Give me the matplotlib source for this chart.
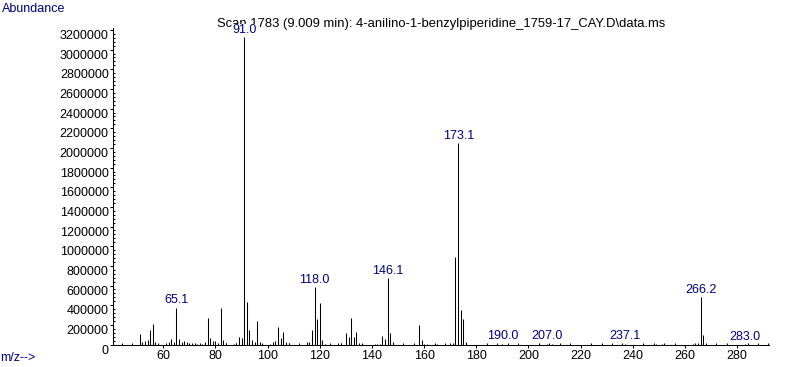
import matplotlib
matplotlib.use("Agg")
import matplotlib.pyplot as plt
from matplotlib.ticker import MultipleLocator, FixedLocator

plt.rcParams['font.family'] = ['Liberation Sans', 'DejaVu Sans']

# ---- data ----
mz = [51, 52, 53, 54, 55, 56, 57, 58, 61, 62, 63, 64, 65, 66, 67, 68, 69, 70,
      71, 72, 73, 74, 75, 76, 77, 78, 79, 80, 81, 82, 83, 84, 87, 88, 89, 90,
      91, 92, 93, 94, 95, 96, 97, 98, 101, 102, 103, 104, 105, 106, 107, 108,
      112, 115, 116, 117, 118, 119, 120, 121, 122, 127, 128, 130, 131, 132,
      133, 134, 135, 136, 141, 142, 143, 144, 145, 146, 147, 148, 152, 158,
      159, 160, 161, 165, 168, 170, 171, 172, 173, 174, 175, 176, 190, 207,
      209, 236, 237, 249, 251, 263, 265, 266, 267, 283]
abundance = [105000, 30000, 32000, 50000, 145000, 206000, 25000, 12000,
             12000, 25000, 52000, 30000, 376000, 60000, 25000, 35000, 28000,
             15000, 12000, 10000, 10000, 12000, 10000, 30000, 268000, 62000,
             35000, 35000, 18000, 370000, 42000, 12000, 10000, 14000, 78000,
             66000, 3125000, 435000, 148000, 46000, 28000, 240000, 22000,
             12000, 8000, 25000, 38000, 180000, 65000, 128000, 28000, 12000,
             6000, 30000, 22000, 148000, 580000, 262000, 424000, 41000, 10000,
             12000, 18000, 112000, 78000, 268000, 72000, 125000, 18000, 8000,
             8000, 8000, 10000, 85000, 52000, 673000, 112000, 30000, 6000,
             196000, 41000, 10000, 8000, 6000, 6000, 12000, 20000, 895000,
             2047000, 352000, 262000, 30000, 8000, 10000, 6000, 6000, 8000,
             8000, 8000, 10000, 15000, 480000, 95000, 6000]
label_mz = [65.1, 91.0, 118.0, 146.1, 173.1, 190.0, 207.0, 237.1, 266.2, 283.0]
x_ticks = list(range(60, 281, 20))
y_ticks = list(range(0, 3200001, 200000))
title = r"Scan 1783 (9.009 min): 4-anilino-1-benzylpiperidine_1759-17_CAY.D\data.ms"

W, H, DPI = 787, 367, 100
fig = plt.figure(figsize=(W / DPI, H / DPI), dpi=DPI)
ax = fig.add_axes([112.7 / W, 1 - 344.5 / H, (769 - 112.7) / W, (344.5 - 28) / H])

ax.vlines(mz, 0, abundance, colors='black', linewidth=0.75)

ax.set_xlim(40.6, 292.2)
ax.set_ylim(0, 3220000)

for s in ('top', 'right'):
    ax.spines[s].set_visible(False)
for s in ('left', 'bottom'):
    ax.spines[s].set_linewidth(0.75)

ax.xaxis.set_major_locator(FixedLocator(x_ticks))
ax.xaxis.set_minor_locator(MultipleLocator(4))
ax.yaxis.set_major_locator(FixedLocator(y_ticks))
ax.yaxis.set_minor_locator(MultipleLocator(40000))
ax.set_yticklabels([str(v) for v in y_ticks])
ax.set_xticklabels([str(v) for v in x_ticks])

ax.tick_params(axis='x', which='major', direction='out', length=2.3, width=0.75,
               pad=2, labelsize=9)
ax.tick_params(axis='x', which='minor', direction='in', length=1.5, width=0.75)
ax.tick_params(axis='y', which='major', direction='out', length=2.3, width=0.75,
               pad=0.5, labelsize=9)
ax.tick_params(axis='y', which='minor', direction='in', length=1.5, width=0.75)
plt.setp(ax.get_yticklabels(), va='top')

navy = '#000080'
# title drawn in axes so the peak labels (white boxes) can sit over it
ax.text(441 / W, 1 - 24 / H, title, transform=fig.transFigure, ha='center',
        va='center', fontsize=9.4, color='black', zorder=2, clip_on=False)

for lm in label_mz:
    idx = min(range(len(mz)), key=lambda i: abs(mz[i] - lm))
    ax.annotate(f"{lm:.1f}", xy=(lm, abundance[idx]), xytext=(0, 3.1),
                textcoords='offset points', ha='center', va='baseline',
                fontsize=9, color=navy, zorder=5, annotation_clip=False,
                bbox=dict(facecolor='white', edgecolor='none', pad=0.2))

fig.text(2 / W, 1 - 8.5 / H, "Abundance", ha='left', va='center', fontsize=9,
         color=navy)
fig.text(0 / W, 1 - 358 / H, "m/z-->", ha='left', va='center', fontsize=9,
         color=navy)

fig.savefig("out.png", dpi=DPI)
